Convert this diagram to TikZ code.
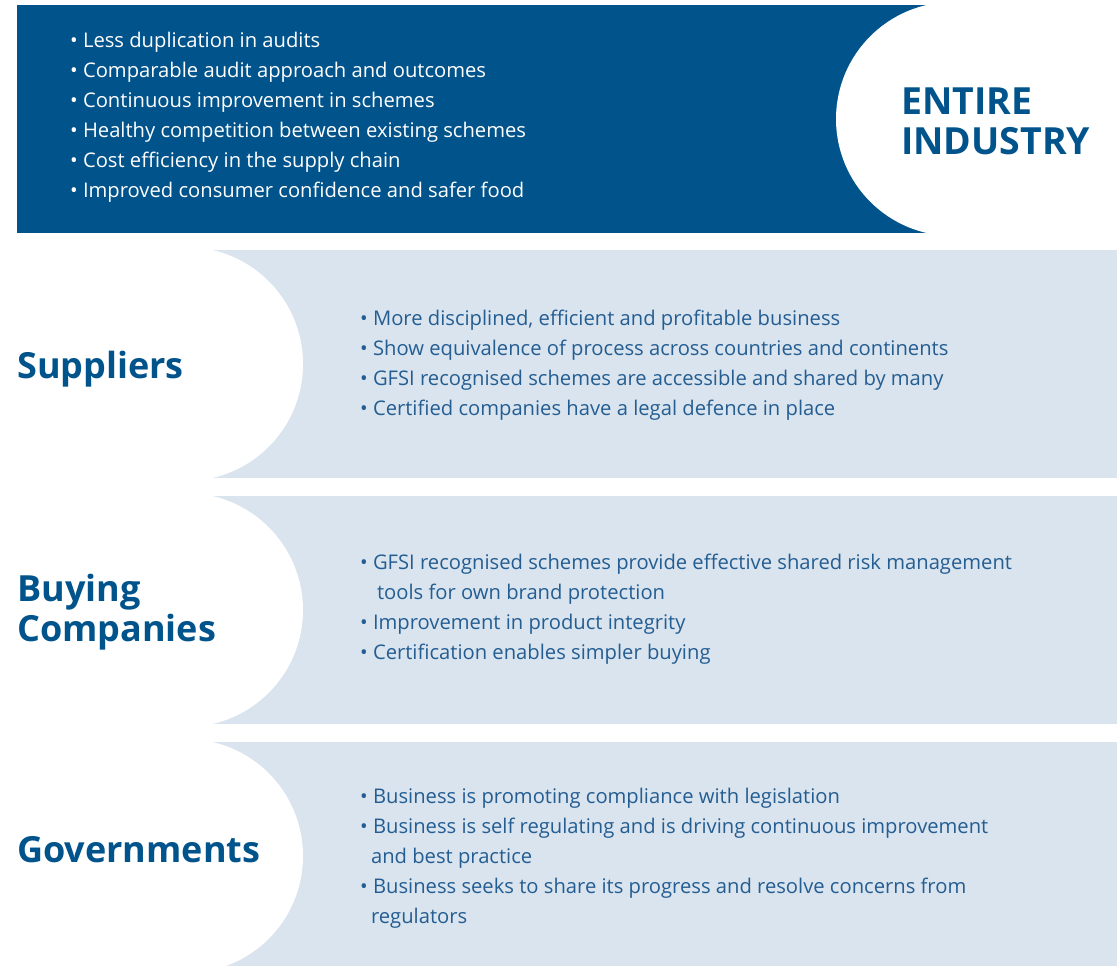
\documentclass[tikz,border=0pt]{standalone}
\usepackage{fontspec}
\setmainfont{Open Sans}
\newfontfamily\headfont{Open Sans}
\usepackage{tikz}

\definecolor{darkband}{HTML}{00538B}
\definecolor{lightband}{HTML}{D9E4EE}
\definecolor{listblue}{HTML}{245D92}

\newcommand{\itm}{\textbullet\ }
\newcommand{\cont}[1]{\phantom{\textbullet\ }\hspace{#1}}

\begin{document}
\begin{tikzpicture}[x=1pt,y=-1pt,
    bulletlist/.style={anchor=north west,inner sep=0pt,align=left,font=\fontsize{20.2}{30}\selectfont},
    heading/.style={anchor=west,inner sep=0pt,align=left,text=darkband,font=\headfont\bfseries\fontsize{36}{40}\selectfont}]
  \clip (0,0) rectangle (1117,966);

  % top band with the white bulge on the right
  \fill[darkband] (17,5) rectangle (953,233);
  \fill[white] (953,119) circle[radius=117pt];

  % three light bands, white bulge on the left
  \foreach \y in {364,610,856}{
    \fill[lightband] (186,\y-114) rectangle (1117,\y+114);
    \fill[white] (186,\y) circle[radius=117pt];
  }

  \node[heading,font=\headfont\bfseries\fontsize{37.4}{40}\selectfont] (industry) at (901,121) {ENTIRE\\INDUSTRY};
  \node[heading] (suppliers) at (17,369) {Suppliers};
  \node[heading] (buyers) at (17,612) {Buying\\Companies};
  \node[heading] (govts) at (17,850) {Governments};

  \node[bulletlist,text=white] (industrylist) at (70,32) {\itm Less duplication in audits\\
    \itm Comparable audit approach and outcomes\\
    \itm Continuous improvement in schemes\\
    \itm Healthy competition between existing schemes\\
    \itm Cost efficiency in the supply chain\\
    \itm Improved consumer confidence and safer food};

  \node[bulletlist,text=listblue] (supplierslist) at (360,310) {\itm More disciplined, efficient and profitable business\\
    \itm Show equivalence of process across countries and continents\\
    \itm GFSI recognised schemes are accessible and shared by many\\
    \itm Certified companies have a legal defence in place};

  \node[bulletlist,text=listblue] (buyerslist) at (360,554) {\itm GFSI recognised schemes provide effective shared risk management\\
    \cont{4pt}tools for own brand protection\\
    \itm Improvement in product integrity\\
    \itm Certification enables simpler buying};

  \node[bulletlist,text=listblue] (govtslist) at (360,788) {\itm Business is promoting compliance with legislation\\
    \itm Business is self regulating and is driving continuous improvement\\
    \cont{-2pt}and best practice\\
    \itm Business seeks to share its progress and resolve concerns from\\
    \cont{-2pt}regulators};
\end{tikzpicture}
\end{document}
